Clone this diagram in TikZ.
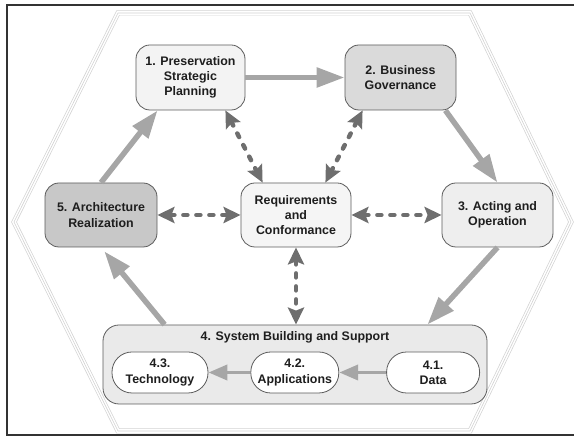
\documentclass[tikz,border=0pt]{standalone}
\usepackage{fontspec}
\setmainfont{Liberation Sans}
\usepackage{tikz}
\usetikzlibrary{arrows.meta}
\usetikzlibrary{positioning}

\definecolor{framegray}{HTML}{333333}
\definecolor{hexgray}{HTML}{D2D2D2}
\definecolor{boxline}{HTML}{5C5C5C}
\definecolor{flowgray}{HTML}{A6A6A6}
\definecolor{linkgray}{HTML}{6E6E6E}
\definecolor{planfill}{HTML}{F3F3F3}
\definecolor{govfill}{HTML}{DADADA}
\definecolor{reqfill}{HTML}{F5F5F5}
\definecolor{archfill}{HTML}{C8C8C8}
\definecolor{actfill}{HTML}{EEEEEE}
\definecolor{sbsfill}{HTML}{EAEAEA}
\definecolor{textgray}{HTML}{1E1E1E}

\begin{document}
\begin{tikzpicture}[x=1pt,y=1pt,
    phase/.style={draw=boxline,line width=0.8pt,rounded corners=14pt,align=center,inner sep=0pt,
      font=\bfseries\fontsize{12.4}{15.2}\selectfont,text=textgray},
    part/.style={phase,fill=white,rounded corners=20pt,minimum height=41pt},
    flow/.style={color=flowgray,line width=5.5pt,-{Triangle[length=28pt,width=19pt]}},
    subflow/.style={color=flowgray,line width=3.8pt,-{Triangle[length=19pt,width=15pt]}},
    link/.style={color=linkgray,line width=4.5pt,line cap=round,dash pattern=on 4pt off 9pt,
      {Stealth[length=17pt,width=16pt,inset=3pt]}-{Stealth[length=17pt,width=16pt,inset=3pt]}}]

  \useasboundingbox (0,0) rectangle (574,438);
  \draw [line width=1.5pt,draw=framegray] (7,3) rectangle (580,433);

  % hexagon outline, three thin strokes
  \foreach \w/\c in {5pt/hexgray, 3.6pt/white, 0.6pt/hexgray}
    \draw [line width=\w,draw=\c] (14,216) -- (118,425) -- (470,425) -- (571,216) -- (470,7) -- (118,7) -- cycle;

  \node [phase,fill=planfill,minimum width=109pt,minimum height=65pt] (plan) at (190.5,360.5) {1. Preservation\\Strategic\\Planning};
  \node [phase,fill=govfill,minimum width=111pt,minimum height=65pt] (gov) at (400.5,360.5) {2. Business\\Governance};
  \node [phase,fill=reqfill,minimum width=110pt,minimum height=64pt] (req) at (296,223) {Requirements\\and\\Conformance};
  \node [phase,fill=archfill,minimum width=112pt,minimum height=64pt] (arch) at (101,223) {5. Architecture\\Realization};
  \node [phase,fill=actfill,minimum width=111pt,minimum height=64pt] (act) at (497.5,223) {3. Acting and\\Operation};

  \node [phase,fill=sbsfill,minimum width=384pt,minimum height=79pt,rounded corners=16pt] (sbs) at (295,73.5) {};
  \node [font=\bfseries\fontsize{12.4}{15.2}\selectfont,text=textgray,inner sep=0pt] (sbstitle) at ([yshift=-13pt]sbs.north) {4. System Building and Support};

  \node [part,minimum width=96pt] (tech) at (160,65.5) {4.3.\\Technology};
  \node [part,minimum width=88pt,right=42pt of tech] (apps) {4.2.\\Applications};
  \node [part,minimum width=93pt,right=47pt of apps] (data) {4.1.\\Data};

  \path [flow]
    (plan) edge (gov)
    ([xshift=-11pt]gov.south east) edge (act.north)
    (act.south) edge ([xshift=-60pt]sbs.north east)
    ([xshift=62pt]sbs.north west) edge [shorten >=5pt] (arch.south)
    (arch.north) edge ([xshift=22pt]plan.south west);

  \path [subflow]
    (data) edge (apps)
    (apps) edge (tech);

  \path [link]
    ([xshift=-20pt]plan.south east) edge ([xshift=22pt]req.north west)
    ([xshift=18pt]gov.south west) edge ([xshift=-26pt]req.north east)
    (arch) edge (req)
    (req) edge (act)
    (req.south) edge (req.south |- sbs.north);

\end{tikzpicture}
\end{document}
